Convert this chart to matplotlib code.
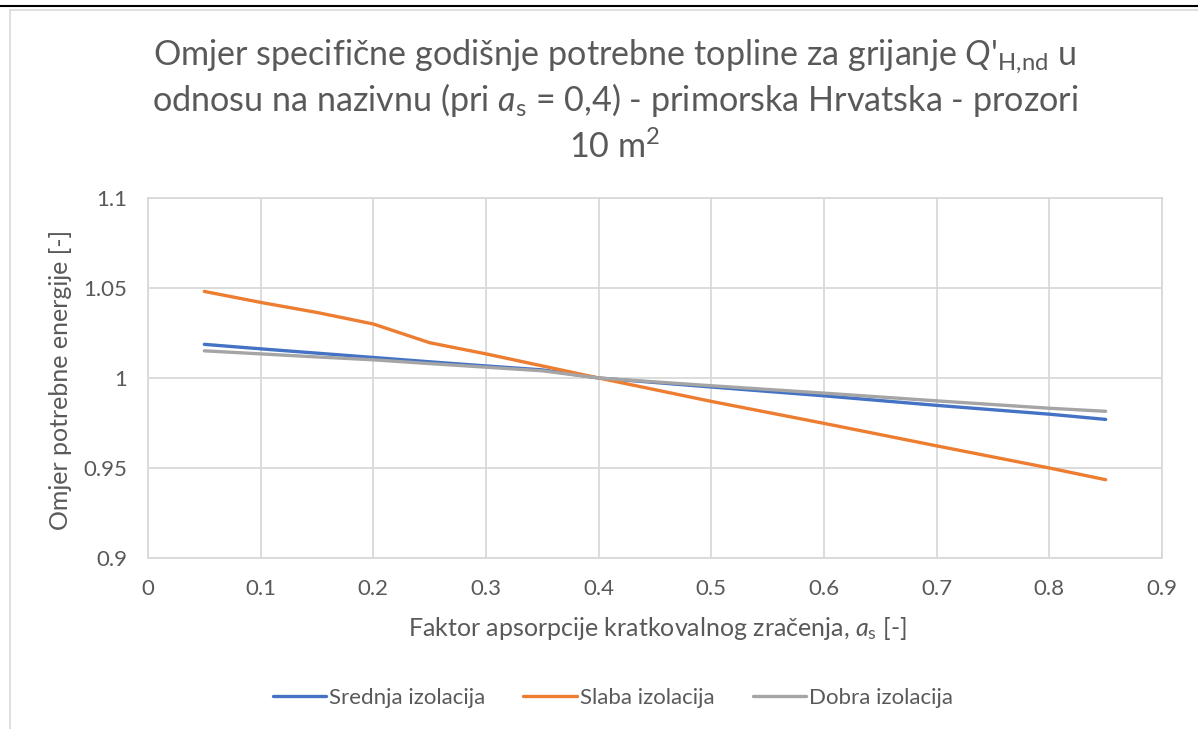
import matplotlib
matplotlib.use("Agg")
import matplotlib.pyplot as plt
from matplotlib.lines import Line2D

plt.rcParams['font.family'] = ['Lato', 'DejaVu Sans']
plt.rcParams['mathtext.fontset'] = 'custom'
plt.rcParams['mathtext.it'] = 'Lato:italic'
plt.rcParams['mathtext.rm'] = 'Lato'

x_vals = [0.05, 0.1, 0.15, 0.2, 0.25, 0.3, 0.35, 0.4, 0.5, 0.6, 0.7, 0.8, 0.85]
srednja = [1.0187, 1.0162, 1.0138, 1.0114, 1.0090, 1.0067, 1.0045, 1.0, 0.9950, 0.9901, 0.9848, 0.9799, 0.9770]
slaba = [1.0481, 1.0420, 1.0364, 1.0300, 1.0196, 1.0134, 1.0067, 1.0, 0.9870, 0.9748, 0.9623, 0.9500, 0.9435]
dobra = [1.0151, 1.0134, 1.0117, 1.0101, 1.0080, 1.0060, 1.0040, 1.0, 0.9957, 0.9916, 0.9873, 0.9832, 0.9815]

series = [("Srednja izolacija", srednja, "#4472C4"),
          ("Slaba izolacija", slaba, "#ED7D31"),
          ("Dobra izolacija", dobra, "#A5A5A5")]

x_ticks = [0, 0.1, 0.2, 0.3, 0.4, 0.5, 0.6, 0.7, 0.8, 0.9]
x_ticklabels = ["0", "0.1", "0.2", "0.3", "0.4", "0.5", "0.6", "0.7", "0.8", "0.9"]
y_ticks = [0.9, 0.95, 1.0, 1.05, 1.1]
y_ticklabels = ["0.9", "0.95", "1", "1.05", "1.1"]

title_lines = ["Omjer specifične godišnje potrebne topline za grijanje $Q$'$_{\\mathrm{H{,}nd}}$ u",
               "odnosu na nazivnu (pri $a_{\\mathrm{s}}$ = 0,4) - primorska Hrvatska - prozori",
               "10 m$^{2}$"]

W, H = 1198, 729
TXT = '#595959'
fig = plt.figure(figsize=(W / 100, H / 100), dpi=100)
ax = fig.add_axes([148 / W, 1 - 558 / H, (1162 - 148) / W, (558 - 198) / H])

for name, vals, col in series:
    ax.plot(x_vals, vals, color=col, lw=2.4, label=name, solid_capstyle='round', solid_joinstyle='round')

ax.set_xlim(0, 0.9)
ax.set_ylim(0.9, 1.1)
ax.set_xticks(x_ticks)
ax.set_xticklabels(x_ticklabels)
ax.set_yticks(y_ticks)
ax.set_yticklabels(y_ticklabels)
ax.grid(True, color='#D9D9D9', lw=1.3)
ax.set_axisbelow(True)
for s in ax.spines.values():
    s.set_color('#D9D9D9')
    s.set_linewidth(1.3)
ax.tick_params(length=0, labelsize=16, colors=TXT, pad=15)

fig.text(657 / W, 1 - 636 / H, "Faktor apsorpcije kratkovalnog zračenja, $a_{\\mathrm{s}}$ [-]",
         ha='center', va='baseline', fontsize=18, color=TXT)
fig.text(61 / W, 1 - 380 / H, "Omjer potrebne energije [-]", rotation=90,
         ha='center', va='center', fontsize=18, color=TXT)

for txt, yb in zip(title_lines, [65, 111, 158]):
    fig.text(615 / W, 1 - yb / H, txt, ha='center', va='baseline', fontsize=24.6, color=TXT)

leg = fig.legend(loc='center', bbox_to_anchor=(613 / W, 1 - 698 / H), ncol=3, frameon=False,
                 fontsize=16, handlelength=2.4, handletextpad=0.15, columnspacing=1.7)
for t in leg.get_texts():
    t.set_color(TXT)

# page decorations: header rule and chart frame
fig.add_artist(Line2D([0, 1], [1 - 6 / H, 1 - 6 / H], color='black', lw=1.5, transform=fig.transFigure))
fig.add_artist(Line2D([10 / W, 10 / W], [0, 1 - 10 / H], color='#D9D9D9', lw=1.2, transform=fig.transFigure))
fig.add_artist(Line2D([10 / W, 1], [1 - 10 / H, 1 - 10 / H], color='#D9D9D9', lw=1.2, transform=fig.transFigure))

fig.savefig("out.png", dpi=100)
